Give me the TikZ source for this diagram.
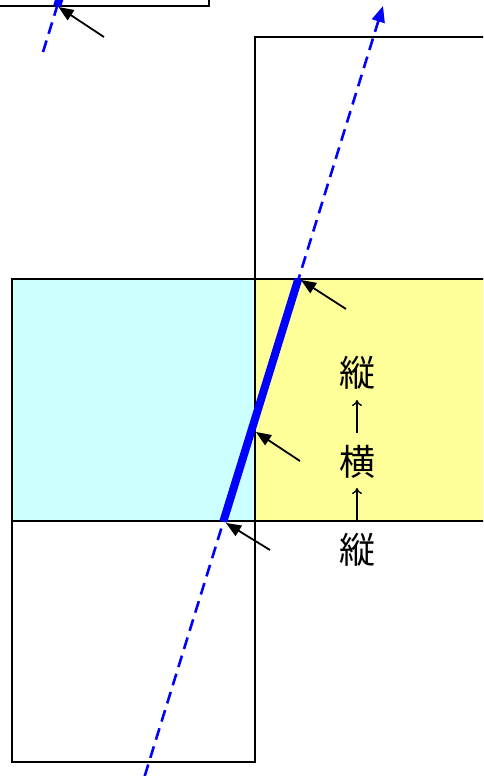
\documentclass[tikz,border=0pt]{standalone}
\usepackage{fontspec}
\newfontfamily\cjk{Noto Sans CJK JP}
\usetikzlibrary{arrows.meta}
\definecolor{lcyan}{HTML}{CCFFFF}
\definecolor{lyellow}{HTML}{FFFF99}
\definecolor{lblue}{HTML}{0000FF}
\tikzset{
  frame/.style={draw=black, line width=1.5pt},
  pointer/.style={draw=black, line width=1.8pt, -{Triangle[length=15pt,width=12pt]}},
  guide/.style={draw=lblue, line width=2.6pt, dash pattern=on 12pt off 7pt},
  edgeline/.style={draw=lblue, line width=8pt},
  kanji/.style={font=\cjk\fontsize{36}{36}\selectfont, inner sep=0pt},
  uparrow/.style={draw=black, line width=1.4pt, -{To[length=6pt,width=10pt]}}
}
\begin{document}
\begin{tikzpicture}[x=1pt,y=-1pt]
\useasboundingbox (0,0) rectangle (483,776);
\clip (0,0) rectangle (483,776);
% fills
\fill[lcyan] (12,279) rectangle (255,521);
\fill[lyellow] (255,279) rectangle (493,521);
% frames
\draw[frame] (-10,-10) rectangle (209,6);
\draw[frame] (255,37) rectangle (493,279);
\draw[frame] (12,279) rectangle (255,521);
\draw[frame] (255,279) rectangle (493,521);
\draw[frame] (12,521) rectangle (255,762);
% coordinates of the blue lines
\coordinate (A0) at (144.7,776);
\coordinate (A1) at (223.3,521.5);
\coordinate (A2) at (298.3,279);
\coordinate (A3) at (383,6);
\coordinate (B0) at (43,52);
\coordinate (B1) at (57.2,6);
\coordinate (B2) at (60.3,-4);
% blue lines
\draw[guide, -{Triangle[length=16pt,width=13pt]}] (A0) -- (A3);
\draw[guide] (B0) -- (B1);
\draw[edgeline] (A1) -- (A2);
\draw[edgeline] (B1) -- (B2);
% pointers
\coordinate (p1t) at (104,37);  \coordinate (p1h) at (58.5,7);
\coordinate (p2t) at (346,309); \coordinate (p2h) at (301,280);
\coordinate (p3t) at (300,461); \coordinate (p3h) at (256,432);
\coordinate (p4t) at (270,550); \coordinate (p4h) at (226,523);
\draw[pointer] (p1t) -- (p1h);
\draw[pointer] (p2t) -- (p2h);
\draw[pointer] (p3t) -- (p3h);
\draw[pointer] (p4t) -- (p4h);
% texts
\node[kanji] (t1) at (357,373) {縦};
\node[kanji] (t2) at (357,462) {横};
\node[kanji] (t3) at (357,550) {縦};
\draw[uparrow] (357,433) -- (357,400);
\draw[uparrow] (357,521.5) -- (357,488);
\end{tikzpicture}
\end{document}
